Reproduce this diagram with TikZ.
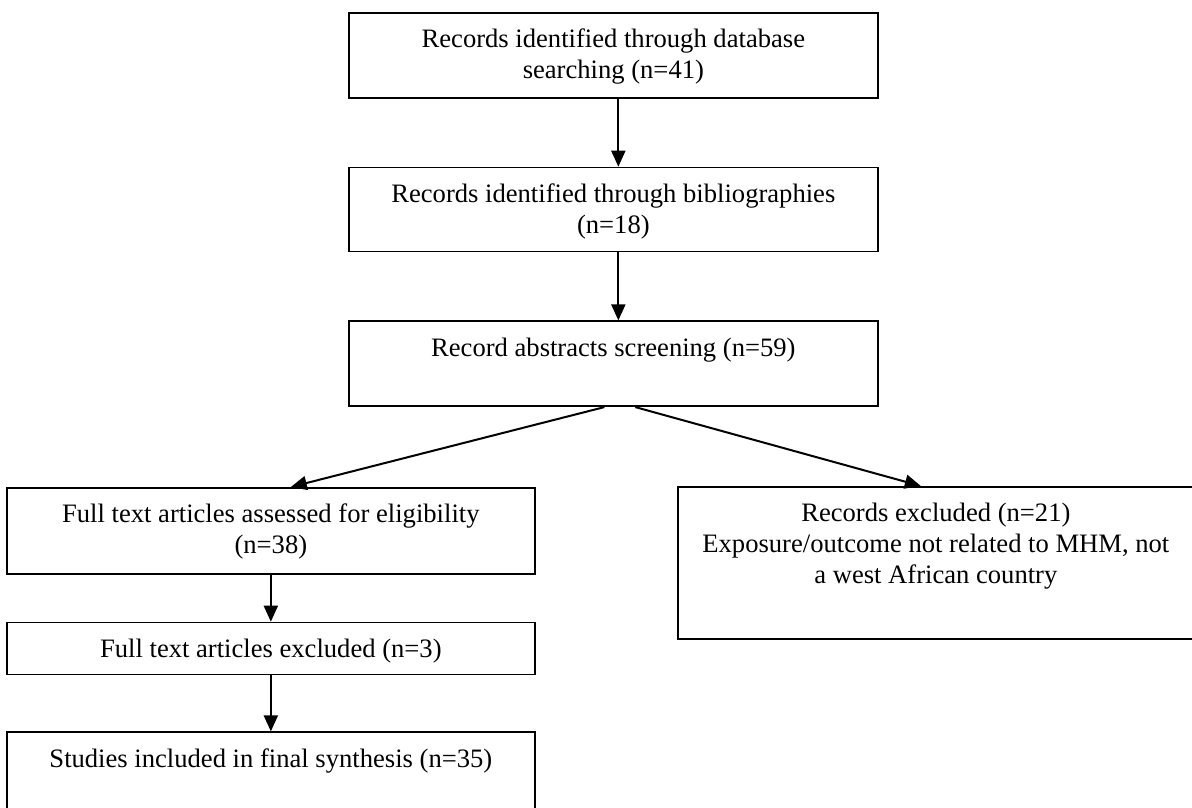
\documentclass[tikz,border=0pt]{standalone}
\usepackage{fontspec}
\setmainfont{Liberation Serif}
\usetikzlibrary{arrows.meta,positioning}

\newcommand{\boxtext}[3]{\parbox[c][#2][t]{#1}{\centering\vspace*{13.3pt}\strut #3}}

\begin{document}
\begin{tikzpicture}[x=1pt, y=-1pt, node distance=68pt,
	box/.style={draw, line width=1.7pt, inner sep=0pt, font=\fontsize{26.6}{31}\selectfont},
	arr/.style={line width=2pt, -{Triangle[length=16pt, width=14pt]}}]
	\useasboundingbox (0,0) rectangle (1192,807);
	\clip (0,0) rectangle (1192,807);
	\node[box, anchor=north west] (db) at (348,12) {\boxtext{529pt}{85pt}{Records identified through database\\ searching (n=41)}};
	\node[box] (bib) [below = of db] {\boxtext{529pt}{84pt}{Records identified through bibliographies\\ (n=18)}};
	\node[box] (screen) [below = of bib] {\boxtext{529pt}{85pt}{Record abstracts screening (n=59)}};
	\node[box, anchor=north west] (full) at (6,487) {\boxtext{528pt}{86pt}{Full text articles assessed for eligibility\\ (n=38)}};
	\node[box, anchor=north west] (recex) at (677,486) {\boxtext{516pt}{152pt}{Records excluded (n=21)\\ Exposure/outcome not related to MHM, not\\ a west African country}};
	\node[box] (fullex) [below = 47pt of full] {\boxtext{528pt}{52pt}{Full text articles excluded (n=3)}};
	\node[box] (incl) [below = 56pt of fullex] {\boxtext{528pt}{110pt}{Studies included in final synthesis (n=35)}};
	\draw[arr] ([xshift=5pt]db.south) -- ([xshift=5pt]bib.north);
	\draw[arr] ([xshift=5pt]bib.south) -- ([xshift=5pt]screen.north);
	\draw[arr] ([xshift=-9pt]screen.south) -- ([xshift=20pt]full.north);
	\draw[arr] ([xshift=22pt]screen.south) -- ([xshift=-15pt]recex.north);
	\draw[arr] (full) -- (fullex);
	\draw[arr] (fullex) -- (incl);
\end{tikzpicture}
\end{document}
